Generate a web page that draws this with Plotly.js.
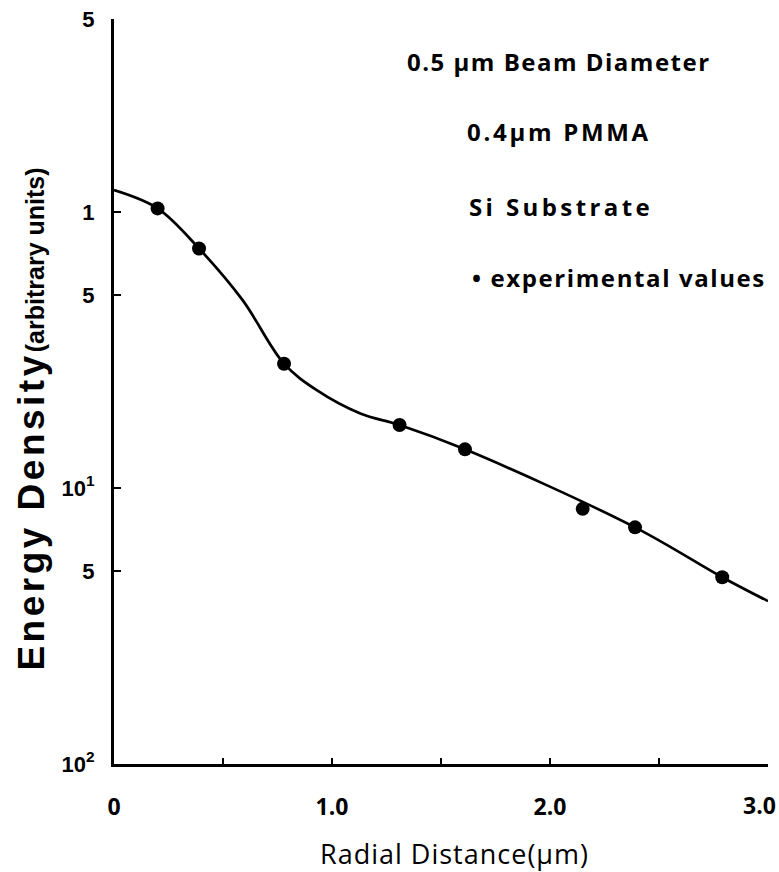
<!DOCTYPE html>
<html>
<head>
<meta charset="utf-8">
<script src="https://cdn.plot.ly/plotly-3.0.1.min.js"></script>
<style>
  html, body { margin: 0; padding: 0; background: #fff; }
  #chart { width: 779px; height: 872px; }
</style>
</head>
<body>
<div id="chart"></div>
<script>
// Experimental values (radial distance in µm, energy density in arbitrary units)
const expX = [0.20, 0.39, 0.78, 1.31, 1.61, 2.15, 2.39, 2.79];
const expY = [1.03, 0.737, 0.282, 0.169, 0.138, 0.084, 0.072, 0.0475];

// Calculated curve
const curveX = [0, 0.20, 0.39, 0.59, 0.78, 0.93, 1.13, 1.31, 1.61, 2.39, 2.79, 3.0];
const curveY = [1.20, 1.03, 0.737, 0.479, 0.282, 0.226, 0.186, 0.169, 0.138, 0.072, 0.0475, 0.0389];

// Axis ticks
const xTickVals = [0, 1.0, 2.0];
const xTickText = ["0", "1.0", "2.0"];
const xMinorTickVals = [0.5, 1.5, 2.5, 3.0];
const xLastTick = { value: 3.0, label: "3.0" };
const yTickVals = [0.01, 0.05, 0.1, 0.5, 1, 5];
const yTickText = ["10<sup>2</sup>", "5", "10<sup>1</sup>", "5", "1", "5"];

// Text labels
const xTitle = "Radial Distance(µm)";
const yTitleMain = "Energy Density";
const yTitleSub = "(arbitrary units)";
const noteLines = ["0.5 µm Beam Diameter", "0.4µm PMMA", "Si Substrate", "• experimental values"];

const traces = [
  {
    x: curveX, y: curveY, type: "scatter", mode: "lines",
    line: { color: "#000", width: 2.7, shape: "spline", smoothing: 1 },
    hoverinfo: "skip", showlegend: false
  },
  {
    x: expX, y: expY, type: "scatter", mode: "markers",
    marker: { color: "#000", size: 14 },
    showlegend: false
  }
];

const tickFontX = { family: "Open Sans", size: 23, color: "#000", weight: "bold" };
const noteFont = { family: "Open Sans", size: 24, color: "#000" };
const notePos = [
  { x: 0.445, y: 0.9423, ls: 1.5 },
  { x: 0.5367, y: 0.8484, ls: 2.7 },
  { x: 0.5398, y: 0.7478, ls: 3.4 },
  { x: 0.5443, y: 0.6534, ls: 1.6 }
];

const annotations = noteLines.map((t, i) => ({
  text: "<b><span style='letter-spacing:" + notePos[i].ls + "px'>" + t + "</span></b>",
  xref: "paper", yref: "paper",
  x: notePos[i].x, y: notePos[i].y,
  xanchor: "left", yanchor: "middle",
  showarrow: false, font: noteFont
}));

annotations.push({
  text: "<b><span style='letter-spacing:3.5px'>" + yTitleMain + "</span>" +
        "<span style='font-size:25px'>" + yTitleSub + "</span></b>",
  xref: "paper", yref: "paper",
  x: -0.1254, y: 0.4636, textangle: -90,
  xanchor: "center", yanchor: "middle",
  showarrow: false,
  font: { family: "Liberation Sans", size: 37, color: "#000" }
});

annotations.push({
  text: "<span style='letter-spacing:1px'>" + xTitle + "</span>",
  xref: "paper", yref: "paper",
  x: 0.5214, y: -0.1198,
  xanchor: "center", yanchor: "middle",
  showarrow: false, borderpad: 0,
  font: { family: "Open Sans", size: 27, color: "#000" }
});

// last x tick label, nudged left so it stays inside the picture as in the original
annotations.push({
  text: "<b>" + xLastTick.label + "</b>",
  xref: "x", yref: "paper",
  x: xLastTick.value, y: -0.055,
  xanchor: "right", yanchor: "middle", xshift: 9,
  showarrow: false, borderpad: 0,
  font: tickFontX
});

const layout = {
  width: 779, height: 872,
  paper_bgcolor: "#fff", plot_bgcolor: "#fff",
  margin: { l: 114, r: 11, t: 18.7, b: 108 },
  showlegend: false,
  xaxis: {
    range: [0, 3.0],
    tickvals: xTickVals, ticktext: xTickText,
    ticks: "inside", ticklen: 6, tickwidth: 2, tickcolor: "#000",
    minor: {
      tickmode: "array", tickvals: xMinorTickVals,
      ticks: "inside", ticklen: 6, tickwidth: 2, tickcolor: "#000", showgrid: false
    },
    showline: true, linecolor: "#000", linewidth: 3,
    showgrid: false, zeroline: false,
    ticklabelstandoff: 20, ticklabeloverflow: "allow",
    tickfont: tickFontX
  },
  yaxis: {
    type: "log",
    range: [-2, Math.log10(5)],
    tickvals: yTickVals, ticktext: yTickText,
    ticks: "inside", ticklen: 7, tickwidth: 2, tickcolor: "#000",
    showline: true, linecolor: "#000", linewidth: 3,
    showgrid: false, zeroline: false,
    ticklabelstandoff: 12,
    tickfont: { family: "Liberation Sans", size: 22, color: "#000", weight: "bold" }
  },
  annotations: annotations
};

Plotly.newPlot("chart", traces, layout, { staticPlot: true, displayModeBar: false });
</script>
</body>
</html>
